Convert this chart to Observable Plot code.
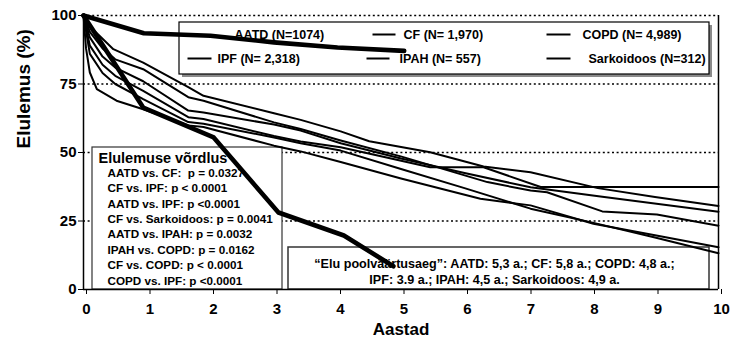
<!DOCTYPE html>
<html><head><meta charset="utf-8">
<script src="https://cdn.jsdelivr.net/npm/d3@7"></script>
<script src="https://cdn.jsdelivr.net/npm/@observablehq/plot@0.6"></script>
<style>body{margin:0;background:#fff} #chart svg{display:block}</style>
</head><body><div id="chart"></div>
<script>
// ---------- data ----------
const xTicks = [0,1,2,3,4,5,6,7,8,9,10];
const yTicks = [0,25,50,75,100];
const gridValues = [25,50,75,100];
const xTitle = "Aastad";
const yTitle = "Elulemus (%)";
const legendRow1 = ["AATD (N=1074)", "CF (N= 1,970)", "COPD (N= 4,989)"];
const legendRow2 = ["IPF (N= 2,318)", "IPAH (N= 557)", "Sarkoidoos (N=312)"];
const comparisonTitle = "Elulemuse võrdlus";
const comparisons = [
  "AATD vs. CF:  p = 0.0327",
  "CF vs. IPF: p < 0.0001",
  "AATD vs. IPF: p <0.0001",
  "CF vs. Sarkoidoos: p = 0.0041",
  "AATD vs. IPAH: p = 0.0032",
  "IPAH vs. COPD: p = 0.0162",
  "CF vs. COPD: p < 0.0001",
  "COPD vs. IPF: p <0.0001"
];
const medianLines = [
  "\u201CElu poolväärtusaeg\u201D: AATD: 5,3 a.; CF: 5,8 a.; COPD: 4,8 a.;",
  "IPF: 3.9 a.; IPAH: 4,5 a.; Sarkoidoos: 4,9 a."
];

// thick curves
const aatdYears = [0, 0.95, 2, 3, 4, 5.05];
const aatdSurv  = [100, 93.5, 92.6, 90.2, 88.3, 87.1];
const steepYears = [0, 0.94, 2.05, 3.07, 4.1, 4.88];
const steepSurv  = [100, 66.4, 55.5, 28.1, 19.7, 8.5];

// thin curves
const curveAYears = [0,0.1,0.3,0.47,0.94,1.65,1.89,3,3.42,4.05,4.5,5.46,6.3,7.04,8.1,9,10];
const curveASurv  = [100,96,91.5,87.7,82.8,73.9,70.7,64.3,61.9,57.7,54.1,50.1,44.9,42.8,37,33.8,30.5];
const curveBYears = [0,0.1,0.3,0.5,0.94,1.65,1.89,3,3.42,4.05,5,6,7.04,8.14,10];
const curveBSurv  = [100,92,85,81,76,65.3,64.6,60.2,58,53.4,47.8,42.5,37.3,33.9,28.4];
const curveCYears = [0,0.1,0.3,0.5,0.94,1.65,1.89,3,3.42,4.05,5.01,6.36,7.04,7.3,8.17,9.03,10];
const curveCSurv  = [100,94,88,84,80.4,70.2,68.9,61,58.6,54.4,48.5,39.2,36.1,35.5,28.5,27.4,23.3];
const curveDYears = [0,0.04,0.1,0.21,0.52,0.94,1.65,1.89,3,3.42,4.05,5,6.25,7.04,8.03,9,10];
const curveDSurv  = [100,88,79.2,73.1,68.9,65.8,59.9,59.3,52.5,50.4,46.5,40.5,33.1,30.7,24,19.8,15.4];
const curveEYears = [0,0.1,0.3,0.5,0.94,1.65,1.89,3,3.42,4.05,5,6,7.04,8,9,10];
const curveESurv  = [100,86,79,75,69.5,61.1,60.5,55.5,53.4,50.7,44,37,29.5,24.5,19,13.2];
const curveFYears = [0,0.1,0.3,0.5,0.94,1.65,1.89,3,3.42,4.05,5.46,6.3,7.2,10];
const curveFSurv  = [100,89,82,78,72.5,62.9,62.2,56,54,51.9,44.6,44.6,37.4,37.4];

// ---------- build tables ----------
function rows(id, ts, vs){ return ts.map((t,i)=>({id, t, v: vs[i]})); }
const thinRows = [
  ...rows("A", curveAYears, curveASurv),
  ...rows("B", curveBYears, curveBSurv),
  ...rows("C", curveCYears, curveCSurv),
  ...rows("D", curveDYears, curveDSurv),
  ...rows("E", curveEYears, curveESurv),
  ...rows("F", curveFYears, curveFSurv)
];
const thickRows = [
  ...rows("AATD", aatdYears, aatdSurv),
  ...rows("steep", steepYears, steepSurv)
];

// ---------- layout (pixels -> data units) ----------
const W = 738, H = 343, mL = 83, mR = 20, mT = 15, mB = 54;
const X = d3.scaleLinear([0,10],[mL, W-mR]);
const Y = d3.scaleLinear([0,100],[H-mB, mT]);
const bx = (x1,y1,x2,y2)=>({x1:X.invert(x1), x2:X.invert(x2), y1:Y.invert(y1), y2:Y.invert(y2)});
const legendBox = bx(179,22,709,74);
const legendShadow = bx(182,25,712,77);
const compBox = bx(92,147,282,289);
const medBox = bx(288,247,709,289);

const legendText = [
  ...legendRow1.map((s,i)=>({s, px:[234,403,582][i], py:34})),
  ...legendRow2.map((s,i)=>({s, px:[217,399,588][i], py:58}))
];
const legendSamples = [
  {a:372,b:395,py:34},{a:546,b:570,py:34},
  {a:187,b:211,py:58},{a:366,b:389,py:58},{a:546,b:570,py:58}
];

const font = "'Liberation Sans', Arial, Helvetica, sans-serif";

const plot = Plot.plot({
  width: W, height: H,
  marginLeft: mL, marginRight: mR, marginTop: mT, marginBottom: mB,
  x: {domain: [0,10]},
  y: {domain: [0,100]},
  style: {fontFamily: font, fontWeight: "bold", color: "black", background: "white", overflow: "visible"},
  marks: [
    Plot.ruleY(gridValues, {stroke: "black", strokeWidth: 1.4, strokeDasharray: "2,2.6"}),
    // boxes
    Plot.rect([legendShadow], {x1:"x1",x2:"x2",y1:"y1",y2:"y2", fill:"#8a8a8a"}),
    Plot.rect([legendBox], {x1:"x1",x2:"x2",y1:"y1",y2:"y2", fill:"white", stroke:"black", strokeWidth:1.2}),
    Plot.rect([compBox], {x1:"x1",x2:"x2",y1:"y1",y2:"y2", fill:"white", stroke:"#333", strokeWidth:1.2}),
    Plot.rect([medBox], {x1:"x1",x2:"x2",y1:"y1",y2:"y2", fill:"white", stroke:"#333", strokeWidth:1.5}),
    // legend
    Plot.link(legendSamples, {x1: d=>X.invert(d.a), x2: d=>X.invert(d.b), y1: d=>Y.invert(d.py), y2: d=>Y.invert(d.py), stroke:"black", strokeWidth:2}),
    Plot.text(legendText, {x: d=>X.invert(d.px), y: d=>Y.invert(d.py), text: "s", textAnchor:"start", fontSize: 12.5, fontWeight:"bold", fill:"black"}),
    // comparison box
    Plot.text([comparisonTitle], {x: ()=>X.invert(98), y: ()=>Y.invert(158), text: d=>d, textAnchor:"start", fontSize: 14.5, fontWeight:"bold", fill:"black"}),
    Plot.text(comparisons, {x: ()=>X.invert(107), y: (d,i)=>Y.invert(172.5 + 15.4*i), text: d=>d, textAnchor:"start", fontSize: 11.7, fontWeight:"bold", fill:"black"}),
    // median box
    Plot.text(medianLines, {x: ()=>X.invert(494), y: (d,i)=>Y.invert(263 + 16*i), text: d=>d, textAnchor:"middle", fontSize: 12.6, fontWeight:"bold", fill:"black"}),
    // survival curves
    Plot.line(thinRows, {x:"t", y:"v", z:"id", stroke:"black", strokeWidth:2, strokeLinejoin:"round"}),
    Plot.line(thickRows, {x:"t", y:"v", z:"id", stroke:"black", strokeWidth:4.6, strokeLinejoin:"round"}),
    // frame
    Plot.ruleX([0], {stroke:"black", strokeWidth:1.5}),
    Plot.ruleX([10], {stroke:"black", strokeWidth:1.5}),
    Plot.ruleY([0], {stroke:"black", strokeWidth:1.5}),
    Plot.axisX({ticks: xTicks, tickSize: 5, tickPadding: 9, fontSize: 15, label: null, tickFormat: d=>String(d), dx: 3}),
    Plot.axisY({ticks: yTicks, tickSize: 5, tickPadding: 2, fontSize: 15, label: null, tickFormat: d=>String(d)}),
    Plot.text([xTitle], {frameAnchor:"bottom", dy: 45, text: d=>d, fontSize: 17, fontWeight:"bold", fill:"black"}),
    Plot.text([yTitle], {frameAnchor:"left", dx: -60, dy: -4, rotate: -90, text: d=>d, fontSize: 19, fontWeight:"bold", fill:"black"})
  ]
});
document.getElementById("chart").appendChild(plot);
</script>
</body></html>
